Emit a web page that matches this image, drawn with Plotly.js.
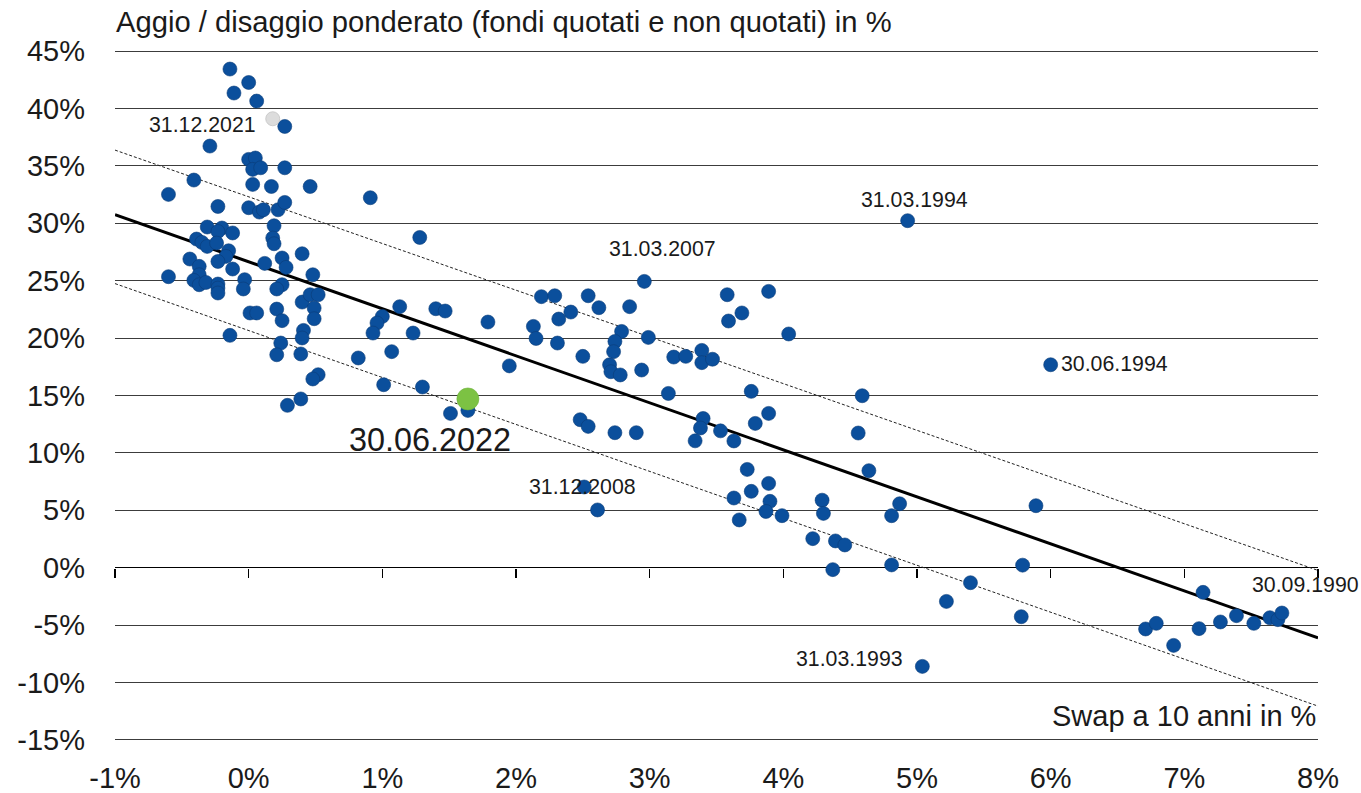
<!DOCTYPE html>
<html>
<head>
<meta charset="utf-8">
<script src="https://cdn.plot.ly/plotly-3.0.1.min.js"></script>
<style>
  html, body { margin: 0; padding: 0; background: #ffffff; }
  #chart { width: 1361px; height: 793px; }
</style>
</head>
<body>
<div id="chart"></div>
<script>
// ---- Data ----
// Swap a 10 anni (%) for each quarter-end observation
const swapX = [
  -0.14, 0.00, -0.11, 0.06, 0.27, -0.29, 0.00, 0.05, 0.03, 0.09,
  0.27, -0.41, -0.60, 0.03, 0.17, 0.46, -0.23, 0.00, 0.08, 0.11,
  0.22, 0.27, -0.31, -0.20, -0.23, -0.12, 0.19, 0.18, 0.19, -0.39,
  -0.35, -0.31, -0.24, -0.15, -0.17, -0.44, -0.23, -0.37, -0.12, 0.12,
  0.25, 0.28, 0.40, -0.60, 0.48, -0.37, -0.41, -0.37, -0.32, -0.23,
  -0.23, -0.23, -0.03, -0.04, 0.25, 0.21, 0.40, 0.46, 0.52, 0.49,
  0.49, 0.01, 0.06, 0.21, 0.25, 0.41, 0.40, -0.14, 0.24, 0.21,
  0.39, 0.52, 0.48, 0.82, 0.39, 0.29, 0.91, 1.28, 1.13, 1.00,
  0.96, 0.93, 1.23, 1.40, 1.47, 1.79, 2.13, 2.15, 1.07, 1.95,
  1.01, 1.30, 1.64, 1.51, 2.96, 2.19, 2.29, 2.54, 2.62, 2.85,
  2.41, 2.32, 2.31, 2.79, 2.74, 2.73, 2.99, 2.50, 2.70, 2.71,
  2.78, 2.94, 3.18, 3.27, 3.39, 3.39, 3.47, 3.14, 2.48, 2.54,
  2.74, 2.90, 3.40, 3.38, 3.34, 3.53, 2.51, 2.61, 3.58, 3.89,
  3.69, 3.59, 4.04, 3.76, 4.59, 3.63, 3.79, 3.89, 4.56, 3.73,
  3.89, 3.76, 3.90, 3.63, 3.87, 3.99, 3.67, 4.29, 4.30, 4.64,
  4.22, 4.39, 4.46, 4.87, 4.81, 5.89, 4.37, 4.81, 5.79, 5.40,
  5.22, 5.78, 5.04, 7.14, 6.71, 6.79, 6.92, 7.11, 7.27, 7.39,
  7.52, 7.64, 7.70, 7.73, 4.93, 6.00
];
// Aggio / disaggio ponderato (%)
const premium = [
  43.44, 42.27, 41.35, 40.65, 38.44, 36.73, 35.57, 35.69, 34.70, 34.84,
  34.84, 33.77, 32.52, 33.39, 33.21, 33.21, 31.47, 31.36, 30.98, 31.18,
  31.18, 31.82, 29.68, 29.59, 29.29, 29.16, 29.79, 28.72, 28.22, 28.63,
  28.34, 27.99, 28.28, 27.61, 27.12, 26.89, 26.68, 26.25, 26.02, 26.51,
  26.98, 26.16, 27.35, 25.35, 25.52, 25.52, 25.03, 24.65, 24.85, 24.71,
  24.36, 23.93, 25.09, 24.28, 24.65, 24.28, 23.14, 23.78, 23.78, 22.62,
  21.69, 22.19, 22.19, 22.53, 21.52, 20.67, 20.01, 20.24, 19.57, 18.55,
  18.62, 16.81, 16.44, 18.27, 14.70, 14.14, 32.23, 28.77, 22.74, 21.89,
  21.32, 20.44, 20.44, 22.56, 22.36, 21.40, 21.02, 19.97, 18.82, 17.58,
  15.94, 15.74, 13.70, 13.44, 24.94, 23.61, 23.69, 23.69, 22.65, 22.74,
  22.27, 21.66, 19.57, 20.58, 19.71, 18.82, 20.06, 18.41, 17.68, 17.07,
  16.79, 17.22, 18.35, 18.41, 18.93, 17.86, 18.16, 15.18, 12.89, 12.31,
  11.76, 11.76, 13.00, 12.17, 11.05, 11.92, 7.03, 5.03, 23.78, 24.07,
  22.19, 21.49, 20.36, 15.36, 14.98, 11.04, 12.57, 13.44, 11.73, 8.56,
  7.34, 6.65, 5.78, 6.07, 4.90, 4.53, 4.16, 5.88, 4.73, 8.45,
  2.53, 2.33, 1.98, 5.57, 4.53, 5.40, -0.17, 0.24, 0.22, -1.31,
  -2.94, -4.27, -8.60, -2.15, -5.34, -4.85, -6.77, -5.31, -4.73, -4.18,
  -4.85, -4.36, -4.53, -3.95, 30.23, 17.68
];

// Highlighted observations
const prevDate = ['31.12.2021'];
const prevX = [0.18];
const prevY = [39.11];
const currDate = ['30.06.2022'];
const currX = [1.64];
const currY = [14.70];

// Labelled historical observations
const labelDates = ['31.03.1994', '31.03.2007', '30.06.1994', '31.12.2008', '31.03.1993', '30.09.1990'];
const labelX = [4.93, 2.96, 6.00, 2.51, 5.04, 7.73];
const labelY = [30.23, 24.94, 17.68, 7.03, -8.60, -3.95];

// Regression line and band
const trendX = [-1, 8];
const trendY = [30.75, -6.12];
const upperY = [36.38, -0.24];
const lowerY = [24.75, -12.06];

// Axis ticks
const xTickVals = [-1, 0, 1, 2, 3, 4, 5, 6, 7, 8];
const xTickText = ['-1%', '0%', '1%', '2%', '3%', '4%', '5%', '6%', '7%', '8%'];
const yTickVals = [-15, -10, -5, 0, 5, 10, 15, 20, 25, 30, 35, 40, 45];
const yTickText = ['-15%', '-10%', '-5%', '0%', '5%', '10%', '15%', '20%', '25%', '30%', '35%', '40%', '45%'];

// ---- Styling ----
const FONT = 'Liberation Sans, Arial, sans-serif';
const TXT = '#1a1a1a';
const BLUE = '#0b4f9c';
const BLUE_EDGE = '#0a3c78';

const traces = [
  { x: trendX, y: upperY, type: 'scatter', mode: 'lines', xaxis: 'x', yaxis: 'y',
    line: { color: '#222', width: 1, dash: '3px,2px' }, hoverinfo: 'skip', showlegend: false },
  { x: trendX, y: lowerY, type: 'scatter', mode: 'lines', xaxis: 'x', yaxis: 'y',
    line: { color: '#222', width: 1, dash: '3px,2px' }, hoverinfo: 'skip', showlegend: false },
  { x: trendX, y: trendY, type: 'scatter', mode: 'lines', xaxis: 'x', yaxis: 'y',
    line: { color: '#000', width: 3 }, hoverinfo: 'skip', showlegend: false },
  { x: swapX, y: premium, type: 'scatter', mode: 'markers', xaxis: 'x2', yaxis: 'y',
    marker: { color: BLUE, size: 14, line: { color: BLUE_EDGE, width: 0.6 } }, showlegend: false },
  { x: prevX, y: prevY, text: prevDate, type: 'scatter', mode: 'markers', xaxis: 'x2', yaxis: 'y',
    marker: { color: '#dcdcdc', size: 14, line: { color: '#c4c4c4', width: 0.8 } }, showlegend: false },
  { x: currX, y: currY, text: currDate, type: 'scatter', mode: 'markers', xaxis: 'x2', yaxis: 'y',
    marker: { color: '#7cc243', size: 22, line: { color: '#6db23a', width: 0.6 } }, showlegend: false }
];

const smallFont = { family: FONT, size: 21.3, color: TXT };
const labelShift = [[7, 21], [18, 32], [64, 1], [-2, 0], [-73, 7], [24, 28]];
const annotations = labelDates.map((d, i) => ({
  x: labelX[i], y: labelY[i], xref: 'x2', yref: 'y', text: d, showarrow: false,
  xanchor: 'center', yanchor: 'middle', xshift: labelShift[i][0], yshift: labelShift[i][1],
  font: smallFont
}));
annotations.push({
  x: prevX[0], y: prevY[0], xref: 'x2', yref: 'y', text: prevDate[0], showarrow: false,
  xanchor: 'center', yanchor: 'middle', xshift: -70, yshift: -6, font: smallFont
});
annotations.push({
  x: currX[0], y: currY[0], xref: 'x2', yref: 'y', text: currDate[0], showarrow: false,
  xanchor: 'center', yanchor: 'middle', xshift: -38, yshift: -41,
  font: { family: FONT, size: 32.4, color: TXT }
});
annotations.push({
  x: 1, y: 0.036, xref: 'paper', yref: 'paper', text: 'Swap a 10 anni in %', showarrow: false,
  xanchor: 'right', yanchor: 'middle', font: { family: FONT, size: 29, color: TXT }
});

const yRange = [-15.1, 45.1];
const zeroPos = (0 - yRange[0]) / (yRange[1] - yRange[0]);

const layout = {
  width: 1361, height: 793,
  paper_bgcolor: '#ffffff', plot_bgcolor: '#ffffff',
  margin: { l: 115, r: 43, t: 50.35, b: 51.85, pad: 0 },
  font: { family: FONT, size: 29, color: TXT },
  title: {
    text: 'Aggio / disaggio ponderato (fondi quotati e non quotati) in %',
    font: { family: FONT, size: 29.2, color: TXT },
    x: 116 / 1361, xref: 'container', xanchor: 'left',
    y: 1 - 22 / 793, yref: 'container', yanchor: 'middle'
  },
  showlegend: false,
  xaxis: {
    range: [-1, 8], anchor: 'free', position: zeroPos,
    tickvals: xTickVals, showticklabels: false,
    ticks: 'outside', ticklen: 9, tickwidth: 1.5, tickcolor: '#000',
    showgrid: false, zeroline: false, showline: false, fixedrange: true
  },
  xaxis2: {
    range: [-1, 8], overlaying: 'x', anchor: 'y', side: 'bottom',
    tickvals: xTickVals, ticktext: xTickText, ticks: '',
    ticklabelstandoff: 17,
    tickfont: { family: FONT, size: 29, color: TXT },
    showgrid: false, zeroline: false, showline: false, fixedrange: true
  },
  yaxis: {
    range: yRange, tickvals: yTickVals, ticktext: yTickText, ticks: '',
    ticklabelstandoff: 29,
    tickfont: { family: FONT, size: 29, color: TXT },
    showgrid: true, gridcolor: '#3c3c3c', gridwidth: 1,
    zeroline: true, zerolinecolor: '#000', zerolinewidth: 1.5,
    showline: false, fixedrange: true
  },
  annotations: annotations
};

Plotly.newPlot('chart', traces, layout, { staticPlot: true, displayModeBar: false });
</script>
</body>
</html>
